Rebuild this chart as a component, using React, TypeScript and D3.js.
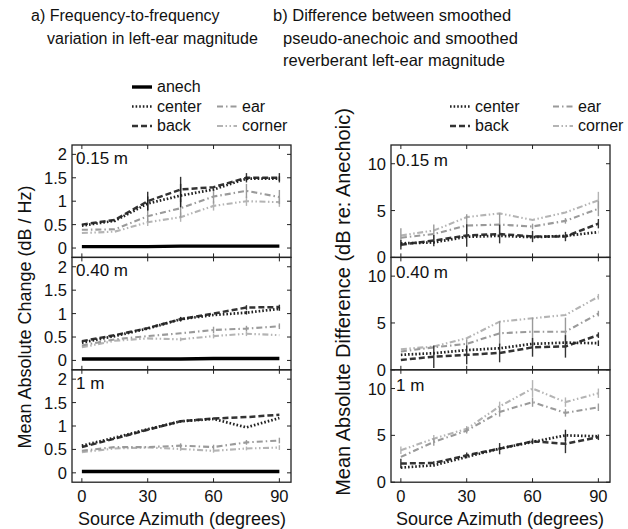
import React from 'react';
import * as d3 from 'd3';

/* ── data ───────────────────────────────────────────────── */
const azimuths = [0, 15, 30, 45, 60, 75, 90];
const distances = ['0.15 m', '0.40 m', '1 m'];
const xTicks = [0, 30, 60, 90];
const chgTicks = [0, 0.5, 1, 1.5, 2];
const difTicks = [0, 5, 10];

// a) frequency-to-frequency change (dB / Hz), one row per distance
const chgAnech = [
  [0.03, 0.03, 0.03, 0.04, 0.04, 0.04, 0.04],
  [0.03, 0.03, 0.03, 0.03, 0.04, 0.04, 0.04],
  [0.03, 0.03, 0.03, 0.03, 0.03, 0.03, 0.03],
];
const chgCenter = [
  [0.48, 0.58, 0.95, 1.12, 1.25, 1.48, 1.48],
  [0.38, 0.52, 0.68, 0.88, 0.97, 1.02, 1.1],
  [0.58, 0.75, 0.93, 1.1, 1.15, 0.97, 1.17],
];
const chgBack = [
  [0.5, 0.6, 1.0, 1.25, 1.3, 1.5, 1.5],
  [0.41, 0.54, 0.69, 0.88, 1.0, 1.13, 1.14],
  [0.55, 0.73, 0.92, 1.1, 1.16, 1.19, 1.24],
];
const chgEar = [
  [0.39, 0.4, 0.68, 0.85, 1.1, 1.22, 1.09],
  [0.32, 0.45, 0.52, 0.58, 0.65, 0.68, 0.73],
  [0.47, 0.55, 0.55, 0.58, 0.55, 0.65, 0.69],
];
const chgCorner = [
  [0.32, 0.35, 0.55, 0.66, 0.9, 1.0, 0.98],
  [0.28, 0.42, 0.47, 0.45, 0.52, 0.57, 0.54],
  [0.44, 0.52, 0.54, 0.51, 0.47, 0.52, 0.54],
];
// error bar half-lengths (0 = none drawn)
const chgCenterErr = [
  [0, 0, 0.15, 0.25, 0, 0.05, 0.05],
  [0, 0, 0, 0.04, 0, 0.04, 0.04],
  [0, 0, 0, 0, 0, 0, 0],
];
const chgBackErr = [
  [0, 0, 0.2, 0.27, 0, 0.1, 0.1],
  [0, 0, 0, 0.05, 0, 0.05, 0.05],
  [0, 0, 0, 0, 0, 0, 0],
];
const chgEarErr = [
  [0, 0, 0.12, 0.2, 0.15, 0.15, 0.15],
  [0, 0, 0, 0, 0.07, 0.06, 0.06],
  [0, 0, 0, 0.05, 0.05, 0.05, 0.06],
];
const chgCornerErr = [
  [0, 0, 0.08, 0.1, 0.1, 0.1, 0.1],
  [0, 0, 0, 0.04, 0.05, 0.05, 0],
  [0, 0, 0, 0.04, 0.04, 0.04, 0.05],
];

// b) smoothed pseudo-anechoic vs reverberant difference (dB)
const difCenter = [
  [1.5, 1.6, 2.2, 2.3, 2.16, 2.3, 2.7],
  [1.6, 1.77, 2.1, 2.3, 2.77, 2.9, 2.84],
  [1.56, 1.8, 2.7, 3.58, 4.3, 5.0, 4.9],
];
const difBack = [
  [1.35, 1.8, 2.34, 2.5, 2.23, 2.23, 3.6],
  [1.05, 1.4, 1.6, 1.8, 2.4, 2.5, 3.7],
  [2.0, 2.05, 2.87, 3.58, 4.36, 4.1, 4.8],
];
const difEar = [
  [2.1, 2.5, 3.4, 3.5, 3.3, 3.9, 5.2],
  [1.95, 2.4, 2.77, 3.9, 4.07, 4.07, 6.0],
  [2.7, 4.3, 5.5, 7.5, 8.55, 7.4, 8.0],
];
const difCorner = [
  [2.34, 2.87, 4.3, 4.7, 4.0, 4.8, 6.1],
  [2.2, 2.48, 3.37, 5.14, 5.5, 5.85, 7.8],
  [3.4, 4.65, 5.7, 8.1, 10.0, 8.55, 9.5],
];
const difCenterErr = [
  [0, 0, 0, 0, 0, 0, 0],
  [0, 0, 0, 0, 0, 0, 0.3],
  [0, 0, 0, 0, 0, 0.6, 0],
];
const difBackErr = [
  [0.5, 0.6, 1.2, 1.0, 0.6, 0.5, 0.5],
  [0, 1.2, 1.0, 1.0, 1.0, 1.2, 0.3],
  [0.5, 0.2, 0.3, 0.6, 0.3, 1.0, 0.3],
];
const difEarErr = [
  [1.0, 1.0, 1.2, 1.2, 0.3, 0.3, 0.8],
  [0, 0, 0.5, 1.3, 1.5, 1.5, 0.3],
  [0, 0.4, 0.3, 0.5, 0.5, 0.4, 0.4],
];
const difCornerErr = [
  [0, 0, 0, 0, 0, 0, 0.9],
  [0, 0, 0, 0, 0, 0, 0.3],
  [0.4, 0.4, 0.3, 0.5, 0.9, 0.5, 0.5],
];

/* ── styles ─────────────────────────────────────────────── */
const FONT = '"Liberation Sans", Arial, Helvetica, sans-serif';
const STYLE: Record<string, { stroke: string; width: number; dash?: string }> = {
  anech: { stroke: '#000', width: 3.4 },
  center: { stroke: '#222', width: 2.7, dash: '1.6 2' },
  back: { stroke: '#333', width: 2.5, dash: '6 3' },
  ear: { stroke: '#9a9a9a', width: 2.1, dash: '6 3 1.5 3' },
  corner: { stroke: '#b4b4b4', width: 2.1, dash: '6 2.5 1.5 2.5 1.5 2.5' },
};

const ROW_TOP = 145;
const ROW_H = 112.4;

type Series = { key: string; values: number[]; err?: number[] };

function Panel({ xr, row, yDomain, yTicks, labelDx, labelDy, series, showX }: {
  xr: [number, number]; row: number; yDomain: [number, number]; yTicks: number[];
  labelDx: number; labelDy: number; series: Series[]; showX: boolean;
}) {
  const top = ROW_TOP + row * ROW_H;
  const bottom = top + ROW_H;
  const x = d3.scaleLinear().domain([-4.5, 95.3]).range(xr);
  const y = d3.scaleLinear().domain(yDomain).range([bottom, top]);
  const line = d3.line<number>().x((_, i) => x(azimuths[i])).y(d => y(d));
  const tk = 4;
  return (
    <g>
      {series.map(s => {
        const st = STYLE[s.key];
        return (
          <g key={s.key}>
            {s.err && s.err.map((e, i) => e > 0 ? (
              <line key={i} x1={x(azimuths[i])} x2={x(azimuths[i])}
                y1={y(s.values[i] - e)} y2={y(s.values[i] + e)}
                stroke={st.stroke} strokeWidth={1.4} />
            ) : null)}
            <path d={line(s.values) || ''} fill="none" stroke={st.stroke}
              strokeWidth={st.width} strokeDasharray={st.dash} />
          </g>
        );
      })}
      <rect x={xr[0]} y={top} width={xr[1] - xr[0]} height={ROW_H}
        fill="none" stroke="#222" strokeWidth={1.3} />
      {yTicks.map(t => (
        <g key={'y' + t}>
          <line x1={xr[0]} x2={xr[0] + tk} y1={y(t)} y2={y(t)} stroke="#222" />
          <line x1={xr[1]} x2={xr[1] - tk} y1={y(t)} y2={y(t)} stroke="#222" />
          <text x={xr[0] - 5} y={y(t) + 6} textAnchor="end" fontSize={16.5}>{String(t)}</text>
        </g>
      ))}
      {xTicks.map(t => (
        <g key={'x' + t}>
          <line x1={x(t)} x2={x(t)} y1={top} y2={top + tk} stroke="#222" />
          <line x1={x(t)} x2={x(t)} y1={bottom} y2={bottom - tk} stroke="#222" />
          {showX && <text x={x(t)} y={bottom + 20} textAnchor="middle" fontSize={16.5}>{String(t)}</text>}
        </g>
      ))}
      <text x={xr[0] + labelDx} y={top + labelDy} fontSize={17}>{distances[row]}</text>
    </g>
  );
}

function LegendItem({ k, x, y, label }: { k: string; x: number; y: number; label: string }) {
  const st = STYLE[k];
  return (
    <g>
      <line x1={x} x2={x + 20} y1={y - 5} y2={y - 5} stroke={st.stroke}
        strokeWidth={st.width} strokeDasharray={st.dash} />
      <text x={x + 25} y={y} fontSize={16}>{label}</text>
    </g>
  );
}

export default function App() {
  const leftX: [number, number] = [72, 291];
  const rightX: [number, number] = [391, 610];
  return (
    <svg width={628} height={529} style={{ position: 'absolute', left: 0, top: 0, background: '#fff' }}
      fontFamily={FONT} fill="#111">
      {/* titles */}
      <text x={31} y={21} fontSize={16}>a) Frequency-to-frequency</text>
      <text x={47} y={43.5} fontSize={16}>variation in left-ear magnitude</text>
      <text x={273} y={21} fontSize={16.5}>b) Difference between smoothed</text>
      <text x={283} y={43.5} fontSize={16.5}>pseudo-anechoic and smoothed</text>
      <text x={283} y={66} fontSize={16.5}>reverberant left-ear magnitude</text>

      {/* legends */}
      <LegendItem k="anech" x={132} y={92} label="anech" />
      <LegendItem k="center" x={132} y={111.5} label="center" />
      <LegendItem k="back" x={132} y={131} label="back" />
      <LegendItem k="ear" x={217} y={111.5} label="ear" />
      <LegendItem k="corner" x={217} y={131} label="corner" />
      <LegendItem k="center" x={450} y={111.5} label="center" />
      <LegendItem k="back" x={450} y={131} label="back" />
      <LegendItem k="ear" x={553} y={111.5} label="ear" />
      <LegendItem k="corner" x={553} y={131} label="corner" />

      {[0, 1, 2].map(r => (
        <Panel key={'a' + r} xr={leftX} row={r} yDomain={[-0.2, 2.2]} yTicks={chgTicks}
          labelDx={4} labelDy={19} showX={r === 2}
          series={[
            { key: 'corner', values: chgCorner[r], err: chgCornerErr[r] },
            { key: 'ear', values: chgEar[r], err: chgEarErr[r] },
            { key: 'back', values: chgBack[r], err: chgBackErr[r] },
            { key: 'center', values: chgCenter[r], err: chgCenterErr[r] },
            { key: 'anech', values: chgAnech[r] },
          ]} />
      ))}
      {[0, 1, 2].map(r => (
        <Panel key={'b' + r} xr={rightX} row={r} yDomain={[0, 12]} yTicks={difTicks}
          labelDx={5} labelDy={21} showX={r === 2}
          series={[
            { key: 'corner', values: difCorner[r], err: difCornerErr[r] },
            { key: 'ear', values: difEar[r], err: difEarErr[r] },
            { key: 'back', values: difBack[r], err: difBackErr[r] },
            { key: 'center', values: difCenter[r], err: difCenterErr[r] },
          ]} />
      ))}

      {/* axis titles */}
      <text transform="translate(31,317) rotate(-90)" textAnchor="middle" fontSize={18}>
        Mean Absolute Change (dB / Hz)
      </text>
      <text transform="translate(350,302) rotate(-90)" textAnchor="middle" fontSize={20}>
        Mean Absolute Difference (dB re: Anechoic)
      </text>
      <text x={182} y={525} textAnchor="middle" fontSize={18}>Source Azimuth (degrees)</text>
      <text x={500} y={525} textAnchor="middle" fontSize={18}>Source Azimuth (degrees)</text>
    </svg>
  );
}
